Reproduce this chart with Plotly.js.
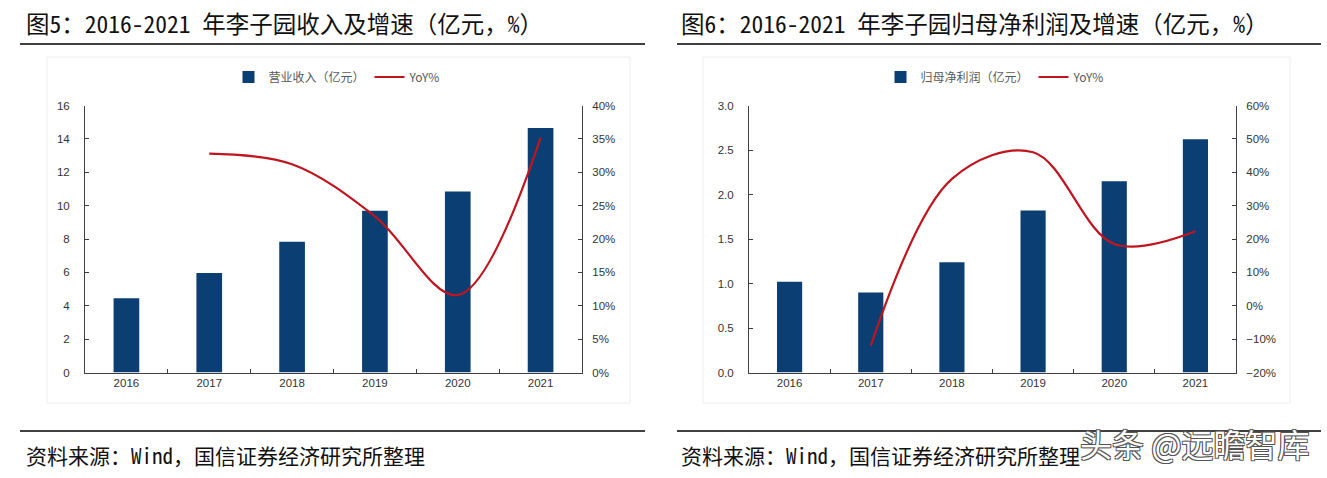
<!DOCTYPE html>
<html>
<head>
<meta charset="utf-8">
<script src="https://cdn.plot.ly/plotly-3.0.1.min.js"></script>
<style>
html,body{margin:0;padding:0;background:#fff;}
#chart{width:1327px;height:478px;}
</style>
</head>
<body>
<div id="chart"></div>
<script>
// ---- data ----
const years = ['2016', '2017', '2018', '2019', '2020', '2021'];
const revenue = [4.45, 5.97, 7.84, 9.70, 10.85, 14.65];          // 营业收入（亿元）
const revenueYoY = [null, 32.8, 31.2, 23.4, 11.6, 35.2];          // YoY%
const profit = [1.02, 0.90, 1.24, 1.82, 2.15, 2.62];              // 归母净利润（亿元）
const profitYoY = [null, -12.0, 38.0, 46.0, 18.5, 22.3];          // YoY%

const leftTitle = '图5：2016-2021 年李子园收入及增速（亿元，%）';
const rightTitle = '图6：2016-2021 年李子园归母净利润及增速（亿元，%）';
const sourceText = '资料来源：Wind，国信证券经济研究所整理';
const revenueName = '营业收入（亿元）';
const profitName = '归母净利润（亿元）';
const yoyName = 'YoY%';
const watermark = '头条 @远瞻智库';

// ---- style ----
const W = 1327, H = 478;
const px = v => v / W;
const py = v => 1 - v / H;
const BAR = '#0b3f73';
const LINE = '#c0141e';
const AXIS = '#404040';
const tickFont = {family: 'Liberation Sans, Arial, sans-serif', size: 11.5, color: '#333'};
const cjk = 'Noto Sans CJK SC, sans-serif';
const cjkMono = 'Noto Sans Mono CJK SC, Noto Sans CJK SC, sans-serif';

const traces = [
  {type: 'bar', x: years, y: revenue, name: revenueName, marker: {color: BAR},
   xaxis: 'x', yaxis: 'y', legend: 'legend'},
  {type: 'scatter', mode: 'lines', x: years, y: revenueYoY, name: yoyName,
   line: {color: LINE, width: 2.2, shape: 'spline', smoothing: 1},
   xaxis: 'x', yaxis: 'y2', legend: 'legend'},
  {type: 'bar', x: years, y: profit, name: profitName, marker: {color: BAR},
   xaxis: 'x2', yaxis: 'y3', legend: 'legend2'},
  {type: 'scatter', mode: 'lines', x: years, y: profitYoY, name: yoyName,
   line: {color: LINE, width: 2.2, shape: 'spline', smoothing: 1},
   xaxis: 'x2', yaxis: 'y4', legend: 'legend2'}
];

const yTop = py(105.5), yBot = py(372.5);
const xAx = (dom, anchor) => ({
  domain: dom, anchor: anchor, type: 'category', showline: true, linecolor: AXIS, linewidth: 1,
  ticks: 'inside', ticklen: 4, tickcolor: AXIS, tickson: 'boundaries', showgrid: false,
  tickfont: tickFont, zeroline: false, fixedrange: true
});
const yAx = (extra) => Object.assign({
  domain: [yBot, yTop], showline: true, linecolor: AXIS, linewidth: 1, ticks: 'inside',
  ticklen: 4, tickcolor: AXIS, showgrid: false, zeroline: false, tickfont: tickFont, fixedrange: true
}, extra);

const layout = {
  width: W, height: H, margin: {l: 0, r: 0, t: 0, b: 0},
  paper_bgcolor: '#fff', plot_bgcolor: 'rgba(0,0,0,0)',
  bargap: 0.69, showlegend: true,
  xaxis: xAx([px(85), px(582)], 'y'),
  yaxis: yAx({range: [0, 16], dtick: 2, ticklabelstandoff: 12}),
  yaxis2: yAx({range: [0, 40], dtick: 5, ticksuffix: '%', overlaying: 'y', side: 'right', anchor: 'x', ticklabelstandoff: 7}),
  xaxis2: xAx([px(749), px(1236)], 'y3'),
  yaxis3: yAx({range: [0, 3], dtick: 0.5, tickformat: '.1f', anchor: 'x2', ticklabelstandoff: 12}),
  yaxis4: yAx({range: [-20, 60], dtick: 10, ticksuffix: '%', overlaying: 'y3', side: 'right', anchor: 'x2', ticklabelstandoff: 7}),
  legend: {orientation: 'h', x: px(337), xanchor: 'center', y: py(77), yanchor: 'middle',
           font: {family: cjk, size: 12, color: '#595959'}, bgcolor: 'rgba(0,0,0,0)'},
  legend2: {orientation: 'h', x: px(995), xanchor: 'center', y: py(77), yanchor: 'middle',
            font: {family: cjk, size: 12, color: '#595959'}, bgcolor: 'rgba(0,0,0,0)'},
  shapes: [
    // faint chart frames
    {type: 'rect', xref: 'paper', yref: 'paper', x0: px(47), x1: px(630), y0: py(57), y1: py(403),
     line: {color: '#eeeeee', width: 1}, layer: 'below'},
    {type: 'rect', xref: 'paper', yref: 'paper', x0: px(703), x1: px(1290), y0: py(57), y1: py(403),
     line: {color: '#eeeeee', width: 1}, layer: 'below'},
    // rules
    {type: 'line', xref: 'paper', yref: 'paper', x0: px(20), x1: px(645), y0: py(44), y1: py(44), line: {color: '#000', width: 1.6}},
    {type: 'line', xref: 'paper', yref: 'paper', x0: px(677), x1: px(1321), y0: py(44), y1: py(44), line: {color: '#000', width: 1.6}},
    {type: 'line', xref: 'paper', yref: 'paper', x0: px(20), x1: px(645), y0: py(431), y1: py(431), line: {color: '#000', width: 1.6}},
    {type: 'line', xref: 'paper', yref: 'paper', x0: px(677), x1: px(1321), y0: py(431), y1: py(431), line: {color: '#000', width: 1.6}}
  ],
  annotations: [
    {xref: 'paper', yref: 'paper', x: px(24), y: py(23), xanchor: 'left', yanchor: 'middle', showarrow: false,
     text: leftTitle, font: {family: cjkMono, size: 23.5, color: '#111'}},
    {xref: 'paper', yref: 'paper', x: px(679), y: py(23), xanchor: 'left', yanchor: 'middle', showarrow: false,
     text: rightTitle, font: {family: cjkMono, size: 23.5, color: '#111'}},
    {xref: 'paper', yref: 'paper', x: px(24), y: py(455), xanchor: 'left', yanchor: 'middle', showarrow: false,
     text: sourceText, font: {family: cjkMono, size: 21, color: '#111'}},
    {xref: 'paper', yref: 'paper', x: px(679), y: py(455), xanchor: 'left', yanchor: 'middle', showarrow: false,
     text: sourceText, font: {family: cjkMono, size: 21, color: '#111'}},
    {xref: 'paper', yref: 'paper', x: px(1194), y: py(443), xanchor: 'center', yanchor: 'middle', showarrow: false,
     text: watermark, font: {family: cjk, size: 32, color: '#ffffff',
       shadow: '-1px -1px 0 #555, 1px -1px 0 #555, -1px 1px 0 #555, 1px 1px 0 #555'}}
  ]
};

Plotly.newPlot('chart', traces, layout, {displayModeBar: false, staticPlot: true});
</script>
</body>
</html>
